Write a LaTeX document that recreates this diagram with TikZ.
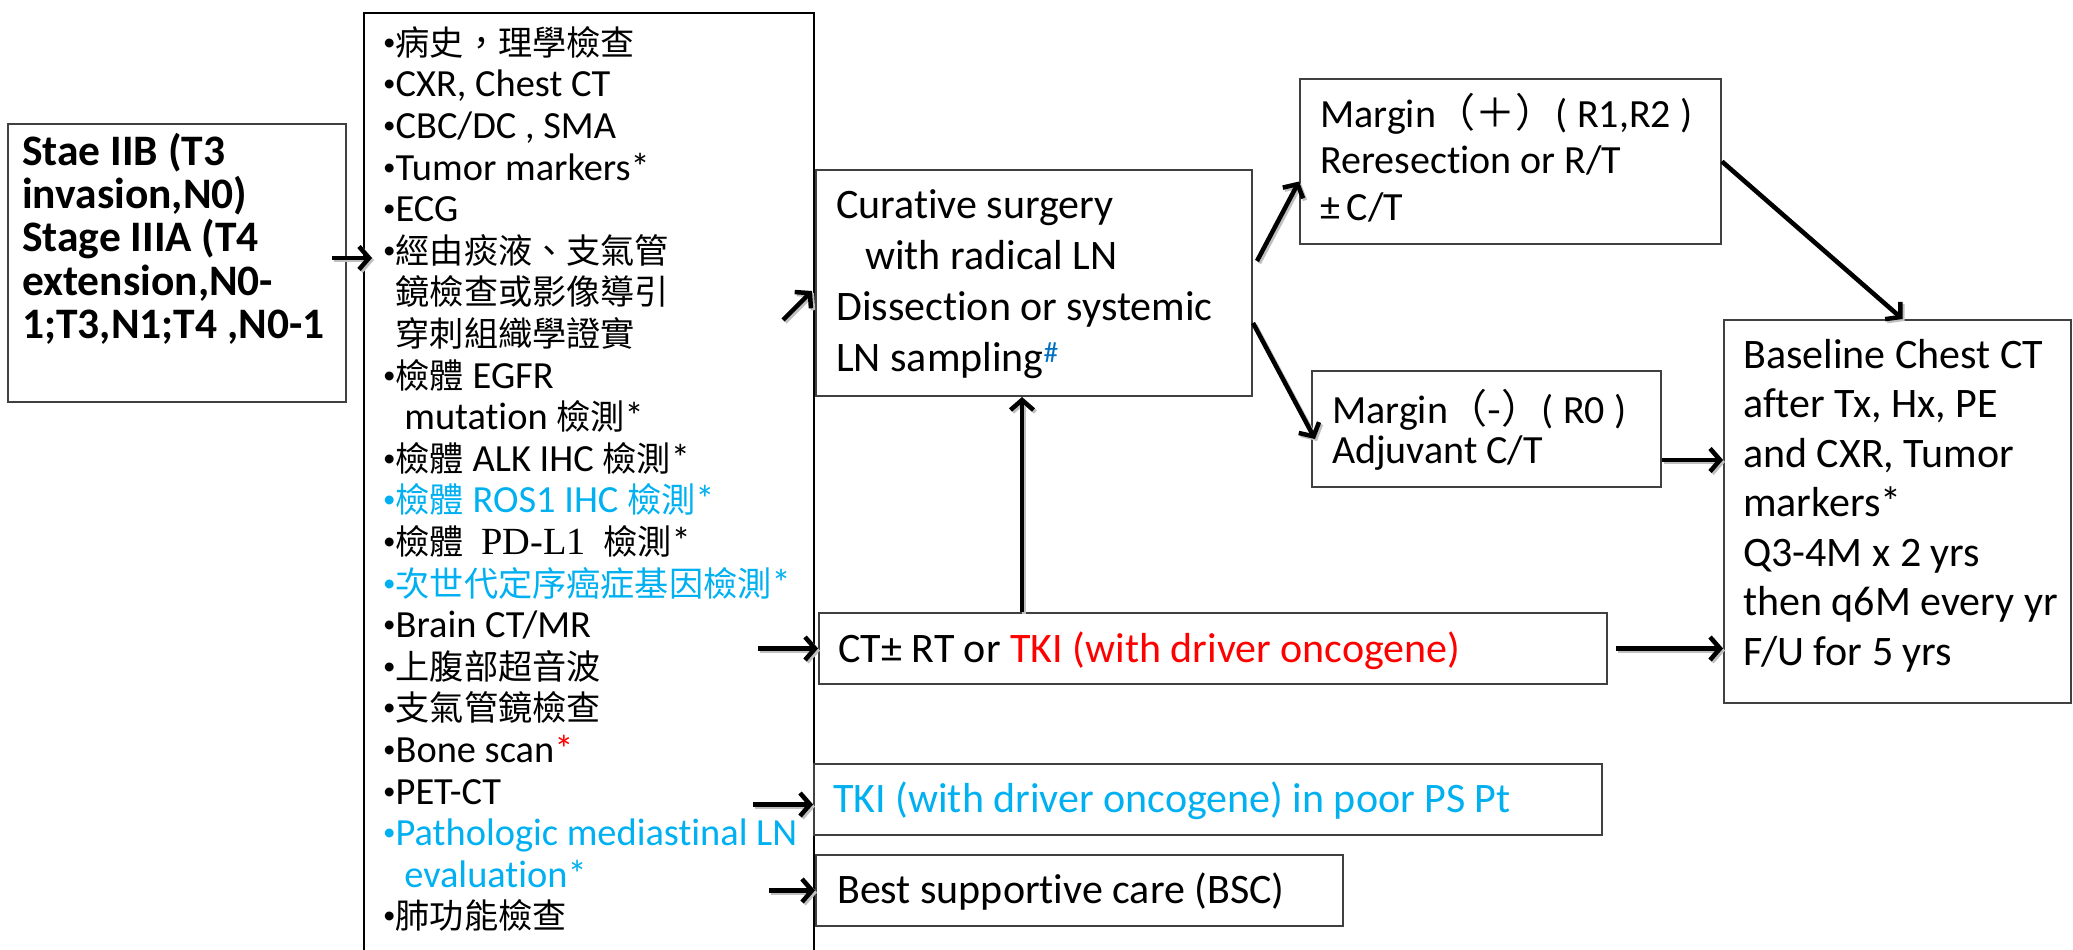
\documentclass[tikz,border=0pt]{standalone}
\usepackage{fontspec}
\setmainfont{Carlito}[Ligatures=CommonOff]
\newfontfamily\cjk{Noto Sans CJK TC}[Scale=0.89]
\newfontfamily\cjkw{Noto Sans CJK TC}
\newfontfamily\serifpd{Liberation Serif}
\usetikzlibrary{arrows.meta,calc}
\definecolor{cyanblue}{HTML}{00B0F0}
\definecolor{hashblue}{HTML}{0070C0}
\definecolor{boxgray}{HTML}{404040}
\newcommand\bu{{\fontsize{25}{25}\selectfont\raisebox{5pt}{•}}}
\tikzset{
  box/.style={draw=boxgray, line width=2pt, inner sep=0pt, anchor=north west},
  txt/.style={inner sep=0pt, anchor=north west, align=left},
  one/.style={inner sep=0pt, anchor=base west},
  arr/.style={line width=4.5pt, -{Straight Barb[length=10pt,width=23pt]},
    preaction={draw=black!25, line width=4.5pt, transform canvas={shift={(2pt,-2pt)}}}},
}
\begin{document}
\begin{tikzpicture}[x=1pt,y=-1pt]
\useasboundingbox (0,0) rectangle (2073,950);

% boxes
\node[box, minimum width=338pt, minimum height=278pt] (stage) at (7,123) {};
\node[box, draw=black, line width=1.6pt, minimum width=450pt, minimum height=960pt] (list) at (363,12) {};
\node[box, minimum width=436pt, minimum height=226pt] (cur) at (815,169) {};
\node[box, minimum width=421pt, minimum height=165pt] (mplus) at (1299,78) {};
\node[box, minimum width=349pt, minimum height=116pt] (mminus) at (1311,370) {};
\node[box, minimum width=347pt, minimum height=383pt] (base) at (1723,319) {};
\node[box, minimum width=788pt, minimum height=71pt] (ct) at (818,612) {};
\node[box, minimum width=788pt, minimum height=71pt] (tki) at (813,763) {};
\node[box, minimum width=527pt, minimum height=71pt] (bsc) at (815,854) {};

% texts
\node[txt, font=\bfseries\fontsize{43.5}{43.3}\selectfont] (stageT) at (22,121)
  {\rule{0pt}{44pt}Stae IIB (T3\\invasion,N0)\\Stage IIIA (T4\\extension,N0-\\1;T3,N1;T4 ,N0-1};

\node[txt, font=\fontsize{38.4}{41.6}\selectfont] (listT) at (383,17)
  {\rule{0pt}{38pt}\bu{\cjk 病史，理學檢查}\\
   \bu CXR, Chest CT\\
   \bu CBC/DC , SMA\\
   \bu Tumor markers*\\
   \bu ECG\\
   \bu{\cjk 經由痰液、支氣管}\\
   \hphantom{\bu}{\cjk 鏡檢查或影像導引}\\
   \hphantom{\bu}{\cjk 穿刺組織學證實}\\
   \bu{\cjk 檢體} EGFR\\
   \hphantom{\bu} mutation {\cjk 檢測}*\\
   \bu{\cjk 檢體} ALK IHC {\cjk 檢測}*\\
   {\color{cyanblue}\bu{\cjk 檢體} ROS1 IHC {\cjk 檢測}*}\\
   \bu{\cjk 檢體}\ \ {\serifpd PD-L1}\ \ {\cjk 檢測}*\\
   {\color{cyanblue}\bu{\cjk 次世代定序癌症基因檢測}*}\\
   \bu Brain CT/MR\\
   \bu{\cjk 上腹部超音波}\\
   \bu{\cjk 支氣管鏡檢查}\\
   \bu Bone scan{\color{red}*}\\
   \bu PET-CT\\
   {\color{cyanblue}\bu Pathologic mediastinal LN}\\
   {\color{cyanblue}\hphantom{\bu} evaluation*}\\
   \bu{\cjk 肺功能檢查}};

\node[txt, font=\fontsize{42}{51}\selectfont] (curT) at (836,176)
  {\rule{0pt}{42pt}Curative surgery\\
   \hspace*{29pt}with radical LN\\
   Dissection or systemic\\
   LN sampling\textsuperscript{\color{hashblue}\#}};

\node[txt, font=\fontsize{40}{46.5}\selectfont] (mplusT) at (1320,87)
  {\rule{0pt}{40pt}Margin{\cjkw （＋）}( R1,R2 )\\
   Reresection or R/T\\
   ±\,C/T};

\node[txt, font=\fontsize{40}{40}\selectfont] (mminusT) at (1332,383)
  {\rule{0pt}{40pt}Margin{\cjkw （-）}( R0 )\\
   Adjuvant C/T};

\node[txt, font=\fontsize{42}{49.5}\selectfont] (baseT) at (1743,326)
  {\rule{0pt}{42pt}Baseline Chest CT\\
   after Tx, Hx, PE\\
   and CXR, Tumor\\
   markers*\\
   Q3-4M x 2 yrs\\
   then q6M every yr\\
   F/U for 5 yrs};

\node[one, font=\fontsize{42}{50}\selectfont] (ctT) at (838,662)
  {CT± RT or {\color{red}TKI (with driver oncogene)}};
\node[one, font=\fontsize{42}{50}\selectfont, text=cyanblue] (tkiT) at (833,812)
  {TKI (with driver oncogene) in poor PS Pt};
\node[one, font=\fontsize{42}{50}\selectfont] (bscT) at (837,903)
  {Best supportive care (BSC)};

% connectors
\coordinate (lc) at (783,320);
\draw[arr, shorten <=-15pt, shorten >=-9pt] ([yshift=5pt]stage.east) -- ([yshift=5pt]stage.east -| list.west);
\draw[arr] (lc) -- ([yshift=-8pt,xshift=-3pt]cur.west);
\draw[arr] ([yshift=22pt,xshift=4pt]cur.east) -- ([yshift=-20pt]mplus.west);
\draw[arr] ([yshift=-40pt]cur.east) -- ([yshift=-10pt,xshift=4pt]mminus.west);
\draw[arr] (mplus.east) -- ([xshift=5pt]base.north);
\draw[arr] ([yshift=-31pt]mminus.east) -- ([yshift=-31pt]mminus.east -| base.west);
\draw[arr, shorten <=8pt] (ct.east) -- (ct.east -| base.west);
\draw[arr] ([xshift=-60pt]ct.west) -- (ct.west);
\draw[arr] ([xshift=-60pt,yshift=-5pt]tki.west) -- ([yshift=-5pt]tki.west);
\draw[arr] ([xshift=-46pt]bsc.west) -- (bsc.west);
\draw[arr] ([xshift=-12pt]cur.south |- ct.north) -- ([xshift=-12pt]cur.south);
\end{tikzpicture}
\end{document}
